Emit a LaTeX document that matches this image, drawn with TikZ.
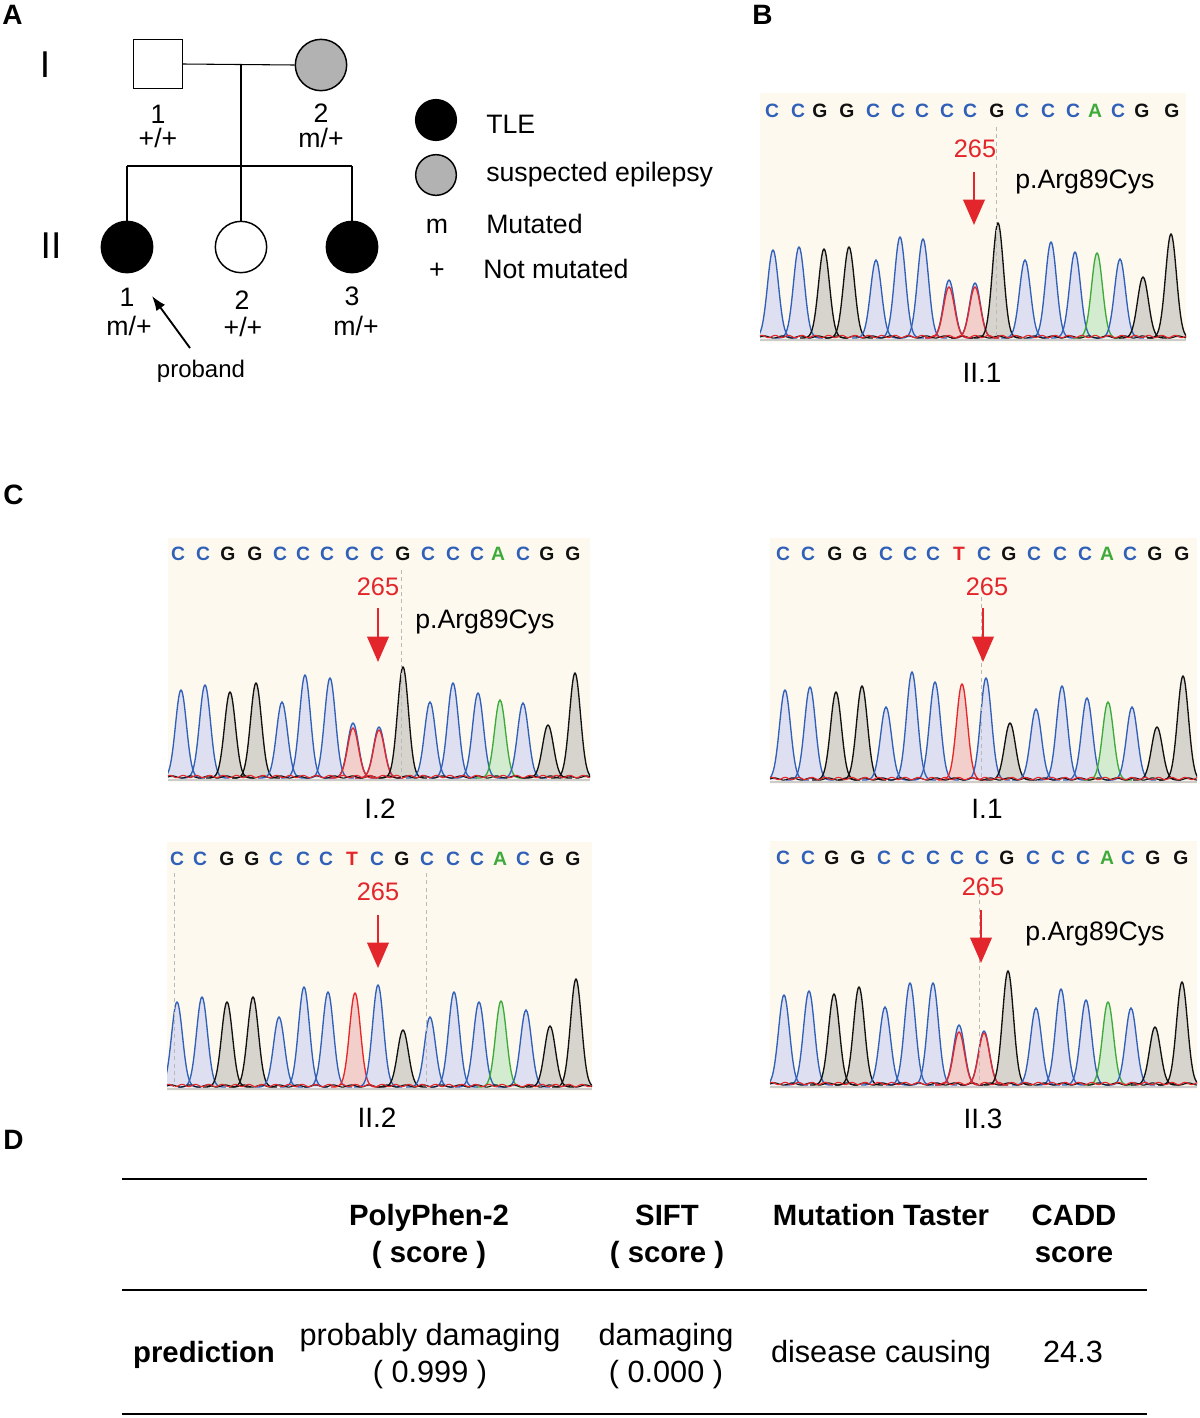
\documentclass[tikz,border=0pt]{standalone}
\usepackage{fontspec}
\setmainfont{Liberation Sans}
\usetikzlibrary{arrows.meta}
\definecolor{cream}{HTML}{FDF9EF}
\definecolor{lineb}{HTML}{3060B8}
\definecolor{linek}{HTML}{111111}
\definecolor{liner}{HTML}{E5262B}
\definecolor{lineg}{HTML}{3DAA3A}
\definecolor{fillb}{HTML}{DEDFF0}
\definecolor{fillk}{HTML}{D6D4CD}
\definecolor{fillr}{HTML}{F2CFCB}
\definecolor{fillg}{HTML}{D3EBCF}
\definecolor{pedgrey}{HTML}{B2B2B2}
\definecolor{mutred}{HTML}{E3262B}
\newcommand\fsz[1]{\fontsize{#1}{#1}\selectfont}
\tikzset{
  pl/.style={line width=0.8pt},
  sq/.style={draw, line width=1.1pt, rectangle, minimum size=36.5pt, inner sep=0},
  circ/.style={draw, line width=1.1pt, circle, minimum size=38.5pt, inner sep=0},
  legc/.style={draw, line width=1.1pt, circle, minimum size=30.5pt, inner sep=0},
  txt/.style={inner sep=0, anchor=base, font=\fsz{20pt}},
  panel/.style={inner sep=0, anchor=base west, font=\fsz{21pt}\bfseries},
  roman/.style={inner sep=0, anchor=base, font=\fsz{28pt}},
  seqfont/.style={inner sep=0, anchor=base, font=\fsz{14.5pt}\bfseries},
  num/.style={inner sep=0, anchor=base, font=\fsz{19pt}, text=mutred},
  mutlbl/.style={inner sep=0, anchor=base west, font=\fsz{20pt}},
  smp/.style={inner sep=0, anchor=base, font=\fsz{21pt}},
  redarrow/.style={draw=mutred, line width=2pt, -{Triangle[length=19pt,width=16pt]}},
  guide/.style={draw=gray!55, line width=0.7pt, dash pattern=on 3pt off 2.5pt},
  tblrule/.style={line width=2pt},
  th/.style={inner sep=0, anchor=base, font=\fsz{22pt}\bfseries},
  td/.style={inner sep=0, anchor=base, font=\fsz{23pt}},
}
% chromatogram: x1, x2, base, top, peak list x/top/colour
\newcommand\chrom[5]{%
  \fill[cream] (#1,#4) rectangle (#2,#3+4);
  \begin{scope}
  \clip (#1,#4) rectangle (#2,#3+4);
  \foreach \px/\py/\pc in {#5} {
    \fill[fill=fill\pc] plot[domain=-24:24,samples=41,smooth] ({\px+\x},{#3-(#3-\py)*exp(-(\x*\x)/60)});
  }
  \foreach \px/\py/\pc in {#5} {
    \draw[draw=line\pc, line width=1pt] plot[domain=-24:24,samples=41,smooth] ({\px+\x},{#3-(#3-\py)*exp(-(\x*\x)/60)});
  }
  \end{scope}
  \draw[gray!40, line width=1.2pt] (#1,#3+2) -- (#2,#3+2);
  \draw[linek, line width=0.8pt] plot[domain=#1:#2, samples=220, smooth] (\x,{#3-1-1.1*sin((\x-#1)*20)});
  \draw[liner, line width=0.8pt] plot[domain=#1:#2, samples=220, smooth] (\x,{#3-1.5-1.2*sin((\x-#1)*27+40)});
}
\newcommand\seqlet[3]{% prefix, baseline, list x/L/c
  \foreach \lx/\lL/\lc [count=\i] in {#3} {
    \node[seqfont, text=line\lc] (#1\i) at (\lx,#2) {\lL};
  }
}
\begin{document}
\begin{tikzpicture}[x=0.75pt, y=-0.75pt]
\fill[white] (0,0) rectangle (1200,1418);
\useasboundingbox (0,0) rectangle (1200,1418);

% ---------------- Panel A ----------------
\node[panel] (labA) at (2,24) {A};
\node[roman] (genI) at (45,77) {I};
\node[roman] (genII) at (51,258) {II};

\node[sq] (I1) at (158,64) {};
\node[circ, fill=pedgrey] (I2) at (321,65) {};
\coordinate (mate) at (241,65);
\coordinate (sib) at (241,166);
\coordinate (sibL) at (127,166);
\coordinate (sibR) at (352,166);
\node[circ, fill=black] (II1) at (127,247) {};
\node[circ, fill=white] (II2) at (241,247) {};
\node[circ, fill=black] (II3) at (352,247) {};
\draw[pl] (I1.east) -- (I2.west);
\draw[pl] (mate) -- (sib);
\draw[pl] (sibL) -- (sibR);
\draw[pl] (sibL) -- (II1.north);
\draw[pl] (sib) -- (II2.north);
\draw[pl] (sibR) -- (II3.north);

\node[txt] (nI1) at (158,123) {1};
\node[txt] (gI1) at (158,147) {+/+};
\node[txt] (nI2) at (321,122) {2};
\node[txt] (gI2) at (321,147) {m/+};
\node[txt] (nII1) at (127,306) {1};
\node[txt] (gII1) at (129,335) {m/+};
\node[txt] (nII2) at (242,309) {2};
\node[txt] (gII2) at (243,336) {+/+};
\node[txt] (nII3) at (352,305) {3};
\node[txt] (gII3) at (356,335) {m/+};
\coordinate (pbtail) at (190,348);
\coordinate (pbtip) at (152,296);
\draw[line width=1.4pt, -{Latex[length=11pt,width=8pt]}] (pbtail) -- (pbtip);
\node[txt, font=\fsz{18pt}] (proband) at (201,377) {proband};

% legend
\node[legc, fill=black] (legTLE) at (436,120) {};
\node[legc, fill=pedgrey] (legSus) at (436,175) {};
\node[mutlbl] (tTLE) at (486,133) {TLE};
\node[mutlbl] (tSus) at (486,181) {suspected epilepsy};
\node[txt] (tm) at (437,233) {m};
\node[mutlbl] (tMut) at (486,233) {Mutated};
\node[txt] (tplus) at (437,278) {+};
\node[mutlbl] (tNot) at (483,278) {Not mutated};

% ---------------- Panel B ----------------
\node[panel] (labB) at (752,24) {B};
\chrom{760}{1186}{338}{93}{773/250/b,799/247/b,824/249/k,849/247/k,876/260/b,900/237/b,923/239/b,949/280/b,949/287/r,975/283/b,975/287/r,998/223/k,1025/260/b,1051/242/b,1075/252/b,1097/253/g,1120/259/b,1143/277/k,1171/234/k}
\seqlet{sB}{117}{772/C/b,798/C/b,820/G/k,847/G/k,873/C/b,898/C/b,922/C/b,947/C/b,970/C/b,997/G/k,1022/C/b,1048/C/b,1073/C/b,1095/A/g,1118/C/b,1142/G/k,1172/G/k}
\coordinate (gB1) at (996,127); \coordinate (gB2) at (996,338);
\draw[guide] (gB1) -- (gB2);
\node[num] (nB) at (975,157) {265};
\coordinate (aB1) at (974,172); \coordinate (aB2) at (974,225);
\draw[redarrow] (aB1) -- (aB2);
\node[mutlbl] (pB) at (1015,188) {p.Arg89Cys};
\node[smp] (sampB) at (982,382) {II.1};

% ---------------- Panel C ----------------
\node[panel] (labC) at (3,504) {C};
% I.2
\chrom{168}{590}{778}{538}{181/690/b,205/685/b,230/692/k,256/683/k,282/702/b,305/675/b,330/678/b,353/723/b,353/728/r,379/727/b,379/730/r,403/667/k,430/702/b,453/683/b,478/693/b,500/700/g,523/703/b,548/725/k,575/673/k}
\seqlet{sC}{560}{178/C/b,203/C/b,228/G/k,255/G/k,280/C/b,303/C/b,327/C/b,352/C/b,377/C/b,403/G/k,428/C/b,453/C/b,477/C/b,498/A/g,523/C/b,547/G/k,573/G/k}
\coordinate (gC1) at (401,570); \coordinate (gC2) at (401,778);
\draw[guide] (gC1) -- (gC2);
\node[num] (nC) at (378,595) {265};
\coordinate (aC1) at (378,608); \coordinate (aC2) at (378,662);
\draw[redarrow] (aC1) -- (aC2);
\node[mutlbl] (pC) at (415,628) {p.Arg89Cys};
\node[smp] (sampC) at (380,818) {I.2};

% I.1
\chrom{770}{1197}{780}{538}{785/690/b,810/687/b,836/692/k,862/686/k,886/707/b,912/672/b,935/682/b,962/684/r,986/678/b,1010/723/k,1036/709/b,1062/686/b,1087/698/b,1108/702/g,1132/707/b,1157/727/k,1183/676/k}
\seqlet{sD}{560}{783/C/b,808/C/b,835/G/k,860/G/k,886/C/b,910/C/b,933/C/b,959/T/r,984/C/b,1009/G/k,1034/C/b,1060/C/b,1085/C/b,1107/A/g,1130/C/b,1155/G/k,1182/G/k}
\coordinate (gD1) at (981,597); \coordinate (gD2) at (981,780);
\draw[guide] (gD1) -- (gD2);
\node[num] (nD) at (987,595) {265};
\coordinate (aD1) at (983,608); \coordinate (aD2) at (983,662);
\draw[redarrow] (aD1) -- (aD2);
\node[smp] (sampD) at (987,818) {I.1};

% II.2
\chrom{167}{592}{1087}{842}{177/1002/b,202/997/b,227/1002/k,253/997/k,279/1017/b,304/987/b,328/992/b,355/993/r,378/985/b,403/1030/k,430/1017/b,454/992/b,479/1002/b,501/1001/g,526/1010/b,550/1026/k,576/979/k}
\seqlet{sE}{865}{177/C/b,200/C/b,227/G/k,252/G/k,276/C/b,303/C/b,326/C/b,352/T/r,377/C/b,402/G/k,427/C/b,453/C/b,477/C/b,500/A/g,523/C/b,547/G/k,573/G/k}
\coordinate (gE1) at (174,873); \coordinate (gE2) at (174,1087);
\coordinate (gE3) at (426,873); \coordinate (gE4) at (426,1087);
\draw[guide] (gE1) -- (gE2);
\draw[guide] (gE3) -- (gE4);
\node[num] (nE) at (378,900) {265};
\coordinate (aE1) at (378,915); \coordinate (aE2) at (378,968);
\draw[redarrow] (aE1) -- (aE2);
\node[smp] (sampE) at (377,1127) {II.2};

% II.3
\chrom{770}{1197}{1085}{841}{784/995/b,809/991/b,834/994/k,859/987/k,885/1007/b,910/983/b,933/983/b,959/1025/b,959/1032/r,984/1031/b,984/1033/r,1008/971/k,1036/1008/b,1061/989/b,1086/1000/b,1108/1002/g,1131/1008/b,1155/1027/k,1182/982/k}
\seqlet{sF}{864}{783/C/b,808/C/b,832/G/k,858/G/k,884/C/b,908/C/b,933/C/b,957/C/b,982/C/b,1007/G/k,1033/C/b,1058/C/b,1083/C/b,1107/A/g,1128/C/b,1153/G/k,1181/G/k}
\coordinate (gF1) at (979,893); \coordinate (gF2) at (979,1085);
\draw[guide] (gF1) -- (gF2);
\node[num] (nF) at (983,895) {265};
\coordinate (aF1) at (981,910); \coordinate (aF2) at (981,963);
\draw[redarrow] (aF1) -- (aF2);
\node[mutlbl] (pF) at (1025,940) {p.Arg89Cys};
\node[smp] (sampF) at (983,1128) {II.3};

% ---------------- Panel D ----------------
\node[panel] (labD) at (3,1149) {D};
\coordinate (r1L) at (122,1179); \coordinate (r1R) at (1147,1179);
\coordinate (r2L) at (122,1290); \coordinate (r2R) at (1147,1290);
\coordinate (r3L) at (122,1414); \coordinate (r3R) at (1147,1414);
\draw[tblrule] (r1L) -- (r1R);
\draw[tblrule] (r2L) -- (r2R);
\draw[tblrule] (r3L) -- (r3R);

\node[th] (hPP) at (429,1225) {PolyPhen-2};
\node[th] (hPPs) at (429,1262) {( score )};
\node[th] (hSIFT) at (667,1225) {SIFT};
\node[th] (hSIFTs) at (667,1262) {( score )};
\node[th] (hMT) at (881,1225) {Mutation Taster};
\node[th] (hCADD) at (1074,1225) {CADD};
\node[th] (hCADDs) at (1074,1262) {score};

\node[th] (rowlab) at (204,1362) {prediction};
\node[td] (dPP) at (430,1345) {probably damaging};
\node[td] (dPPs) at (430,1382) {( 0.999 )};
\node[td] (dSIFT) at (666,1345) {damaging};
\node[td] (dSIFTs) at (666,1382) {( 0.000 )};
\node[td] (dMT) at (881,1362) {disease causing};
\node[td] (dCADD) at (1073,1362) {24.3};
\end{tikzpicture}
\end{document}
